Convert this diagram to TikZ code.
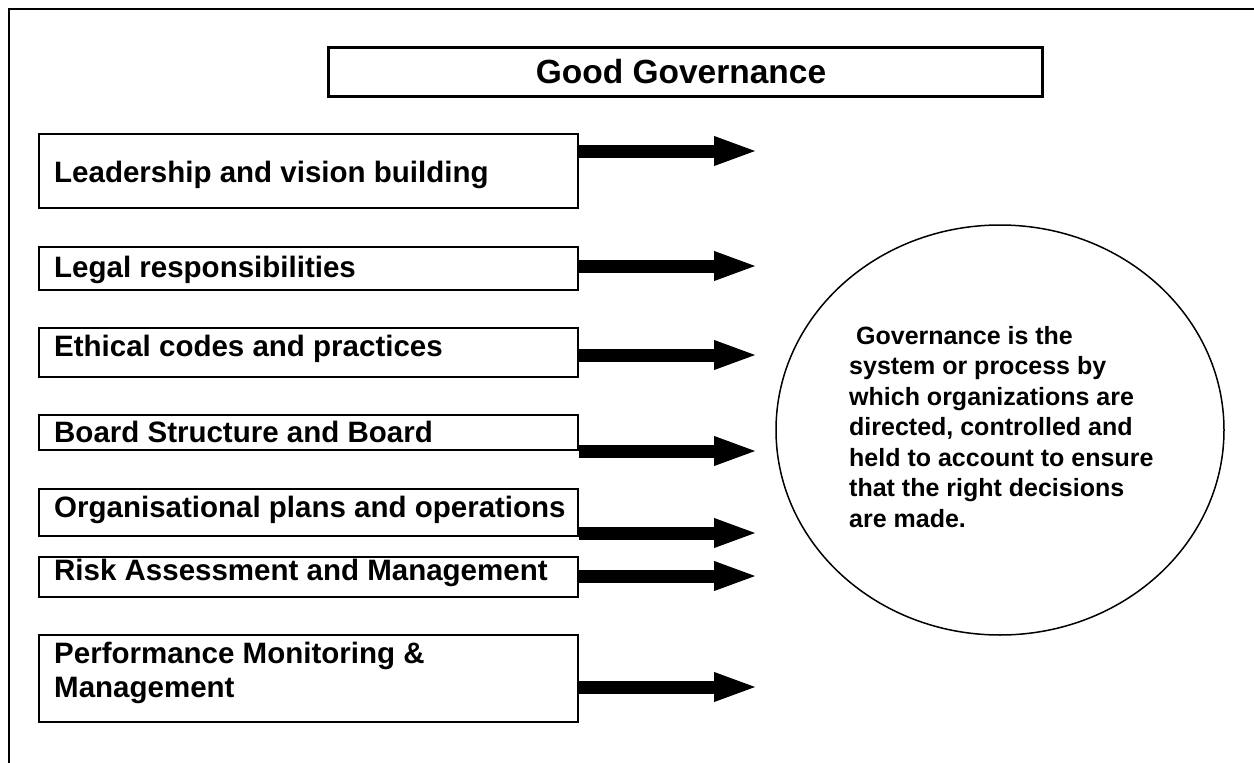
\documentclass[tikz,border=0pt]{standalone}
\usepackage{fontspec}
\setmainfont{Liberation Sans}
\usetikzlibrary{arrows.meta,shapes.geometric}
\begin{document}
\begin{tikzpicture}[x=1pt,y=-1pt,
  itembox/.style={draw, line width=2pt, inner sep=0pt, minimum width=539pt},
  itemtext/.style={anchor=base west, inner sep=0pt, font=\fontsize{29.5}{34}\selectfont\bfseries, align=left},
  bigarrow/.style={line width=13pt, -{Triangle[length=45pt,width=26pt]}},
]
\useasboundingbox (0,0) rectangle (1254,763);
\draw[line width=2.2pt] (9,770) -- (9,9) -- (1260,9);

\node[draw, line width=3pt, inner sep=0pt, minimum width=714pt, minimum height=49pt] (title) at (685,71.5) {};
\node[anchor=base, inner sep=0pt, font=\fontsize{33.5}{38}\selectfont\bfseries] (titletext) at (681,83) {Good Governance};

\node[itembox, minimum height=74pt] (b1) at (308.5,171) {};
\node[itembox, minimum height=43pt] (b2) at (308.5,268.5) {};
\node[itembox, minimum height=49pt] (b3) at (308.5,352.5) {};
\node[itembox, minimum height=35pt] (b4) at (308.5,432.5) {};
\node[itembox, minimum height=47pt] (b5) at (308.5,512.5) {};
\node[itembox, minimum height=40pt] (b6) at (308.5,577) {};
\node[itembox, minimum height=87pt] (b7) at (308.5,678.5) {};

\node[itemtext] (t1) at (54,182) {Leadership and vision building};
\node[itemtext] (t2) at (54,277) {Legal responsibilities};
\node[itemtext] (t3) at (54,356) {Ethical codes and practices};
\node[itemtext] (t4) at (54,442) {Board Structure and Board};
\node[itemtext] (t5) at (54,517) {Organisational plans and operations};
\node[itemtext] (t6) at (54,580) {Risk Assessment and Management};
\node[itemtext] (t7a) at (54,663) {Performance Monitoring \&};
\node[itemtext] (t7b) at (54,697) {Management};

\coordinate (e1) at (759,151);
\coordinate (e2) at (759,266);
\coordinate (e3) at (759,355);
\coordinate (e4) at (759,451);
\coordinate (e5) at (759,533);
\coordinate (e6) at (759,576);
\coordinate (e7) at (759,687);
\foreach \i in {1,...,7}{
  \draw[bigarrow] (b\i.east |- e\i) -- (e\i);
}

\node[draw, ellipse, line width=1.5pt, minimum width=448pt, minimum height=410pt, inner sep=0pt] (gov) at (1000,430) {};
\node[anchor=north west, inner sep=0pt, align=left, font=\fontsize{25}{30.5}\selectfont\bfseries] (govtext) at (849,326)
  {\ Governance is the\\ system or process by\\ which organizations are\\ directed, controlled and\\ held to account to ensure\\ that the right decisions\\ are made.};
\end{tikzpicture}
\end{document}
